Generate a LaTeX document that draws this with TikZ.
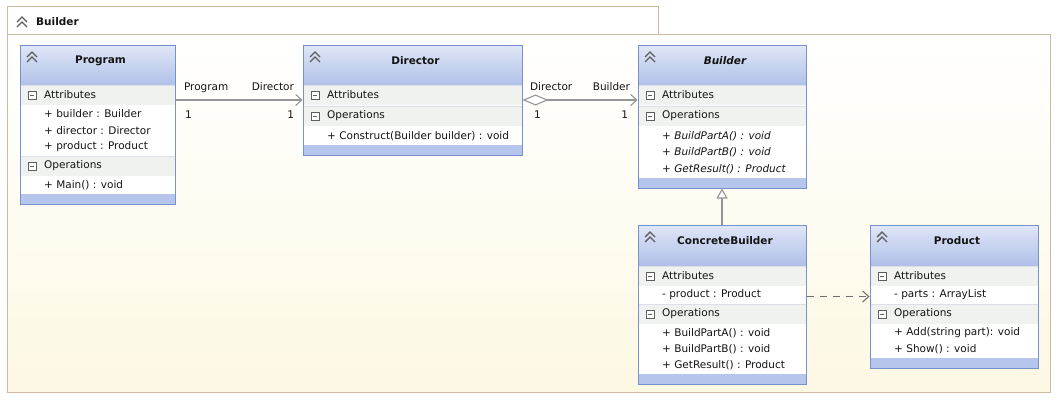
\documentclass[tikz,border=0pt]{standalone}
\usepackage{fontspec}
\setmainfont{DejaVu Sans}
\usepackage{xcolor}
\usetikzlibrary{arrows.meta, fit, positioning}

\definecolor{classborder}{RGB}{118,146,204}
\definecolor{headtop}{RGB}{224,231,247}
\definecolor{headbot}{RGB}{176,192,232}
\definecolor{bandblue}{RGB}{182,197,235}
\definecolor{rowgray}{RGB}{240,242,239}
\definecolor{rowline}{RGB}{220,224,230}
\definecolor{icongray}{RGB}{95,95,95}
\definecolor{linkgray}{RGB}{150,150,150}
\definecolor{dashgray}{RGB}{110,110,110}
\definecolor{frameline}{RGB}{205,186,160}
\definecolor{framecream}{RGB}{253,248,228}
\definecolor{umltext}{RGB}{20,20,20}

\newcommand{\umlfont}{\fontsize{10.5}{12}\selectfont}

\tikzset{
	classbox/.style={draw=classborder, line width=1pt, inner sep=0pt},
	title/.style={inner sep=0pt, font=\umlfont\bfseries, text=umltext},
	member/.style={anchor=west, inner sep=0pt, font=\umlfont, text=umltext},
	lbl/.style={inner sep=0pt, font=\umlfont, text=umltext},
	icon/.style={draw=icongray, line width=1.4pt},
	link/.style={draw=linkgray, line width=1.1pt},
}

% double chevron in a header
\newcommand{\chevrons}[2]{%
	\draw[icon] (#1-5,#2+5) -- (#1,#2) -- (#1+5,#2+5);
	\draw[icon] (#1-5,#2+10) -- (#1,#2+5) -- (#1+5,#2+10);
}
% collapse box of a compartment
\newcommand{\minusbox}[2]{%
	\draw[icongray, fill=white] (#1-4,#2-4) rectangle (#1+4,#2+4);
	\draw[icongray] (#1-2,#2) -- (#1+2,#2);
}
% class: name, x1, y1, x2, y2, title, title font
\newcommand{\umlclass}[7]{%
	\fill[white] (#2,#3) rectangle (#4,#5);
	\shade[top color=headtop, bottom color=headbot] (#2,#3) rectangle (#4,#3+40);
	\fill[bandblue] (#2,#5-10) rectangle (#4,#5);
	\node[classbox, fit={(#2,#3) (#4,#5)}] (#1) {};
	\node[title, #7] (#1-title) at ({(#2+#4)/2+3},#3+16) {#6};
	\chevrons{#2+12}{#3+7}
}
% compartment row: name, x1, x2, y top, label
\newcommand{\compartment}[5]{%
	\fill[rowgray] (#2+0.5,#4) rectangle (#3-0.5,#4+20);
	\draw[rowline] (#2+0.5,#4) -- (#3-0.5,#4);
	\minusbox{#2+12}{#4+10}
	\node[member] (#1) at (#2+24,#4+10) {#5};
}

\begin{document}
\begin{tikzpicture}[x=1pt, y=-1pt]
	\useasboundingbox (0,0) rectangle (1061,402);
	
	% frame with tab
	\draw[frameline, fill=white] (7,6) rectangle (658,34);
	\shade[top color=white, bottom color=framecream] (7,34) rectangle (1050,392);
	\draw[frameline] (7,34) rectangle (1050,392);
	\chevrons{22}{17}
	\node[title, anchor=west] (frame-title) at (36,22) {Builder};
	
	% Program
	\umlclass{program}{20}{45}{175}{204}{Program}{}
	\compartment{program-attr}{20}{175}{85}{Attributes}
	\foreach \m [count=\i from 0] in {{+ builder : Builder}, {+ director : Director}, {+ product : Product}}
		\node[member] (program-a\i) at (44,114+\i*16.5) {\m};
	\compartment{program-ops}{20}{175}{156}{Operations}
	\node[member] (program-o0) at (44,185) {+ Main() : void};
	
	% Director
	\umlclass{director}{303}{45}{522}{155}{Director}{}
	\compartment{director-attr}{303}{522}{85}{Attributes}
	\compartment{director-ops}{303}{522}{106}{Operations}
	\node[member] (director-o0) at (327,136) {+ Construct(Builder builder) : void};
	
	% Builder (abstract)
	\umlclass{builder}{638}{45}{806}{188}{Builder}{font=\umlfont\bfseries\itshape}
	\compartment{builder-attr}{638}{806}{85}{Attributes}
	\compartment{builder-ops}{638}{806}{106}{Operations}
	\foreach \m [count=\i from 0] in {{+ BuildPartA() : void}, {+ BuildPartB() : void}, {+ GetResult() : Product}}
		\node[member, font=\umlfont\itshape] (builder-o\i) at (662,136+\i*16.5) {\m};
	
	% ConcreteBuilder
	\umlclass{concrete}{638}{225}{806}{384}{ConcreteBuilder}{}
	\compartment{concrete-attr}{638}{806}{266}{Attributes}
	\node[member] (concrete-a0) at (662,295) {- product : Product};
	\compartment{concrete-ops}{638}{806}{304}{Operations}
	\foreach \m [count=\i from 0] in {{+ BuildPartA() : void}, {+ BuildPartB() : void}, {+ GetResult() : Product}}
		\node[member] (concrete-o\i) at (662,333+\i*16.3) {\m};
	
	% Product
	\umlclass{product}{870}{225}{1038}{368}{Product}{}
	\compartment{product-attr}{870}{1038}{266}{Attributes}
	\node[member] (product-a0) at (894,295) {- parts : ArrayList};
	\compartment{product-ops}{870}{1038}{304}{Operations}
	\foreach \m [count=\i from 0] in {{+ Add(string part): void}, {+ Show() : void}}
		\node[member] (product-o\i) at (894,333+\i*16.3) {\m};
	
	% association Program -> Director
	\draw[link, -{Straight Barb[length=6pt, width=11pt]}] (program.east |- director.west) -- (director.west)
		node[lbl, pos=0, anchor=base west, xshift=8pt, yshift=10pt] (pd-role1) {Program}
		node[lbl, pos=1, anchor=base east, xshift=-8pt, yshift=10pt] (pd-role2) {Director}
		node[lbl, pos=0, anchor=base west, xshift=9pt, yshift=-18pt] (pd-mult1) {1}
		node[lbl, pos=1, anchor=base east, xshift=-8pt, yshift=-18pt] (pd-mult2) {1};
	
	% aggregation Director -> Builder
	\draw[link, {Diamond[open, fill=white, length=26pt, width=11pt]}-{Straight Barb[length=6pt, width=11pt]}] (director.east) -- (director.east -| builder.west)
		node[lbl, pos=0, anchor=base west, xshift=7pt, yshift=10pt] (db-role1) {Director}
		node[lbl, pos=1, anchor=base east, xshift=-7pt, yshift=10pt] (db-role2) {Builder}
		node[lbl, pos=0, anchor=base west, xshift=11pt, yshift=-18pt] (db-mult1) {1}
		node[lbl, pos=1, anchor=base east, xshift=-9pt, yshift=-18pt] (db-mult2) {1};
	
	% generalization ConcreteBuilder -> Builder
	\draw[link, -{Triangle[open, fill=white, length=10pt, width=11pt]}] (concrete.north) -- (builder.south);
	
	% dependency ConcreteBuilder -> Product
	\draw[link, draw=dashgray, dash pattern=on 7pt off 6pt, -{Straight Barb[length=6pt, width=11pt]}] (product.west -| concrete.east) -- (product.west);
	
\end{tikzpicture}
\end{document}
